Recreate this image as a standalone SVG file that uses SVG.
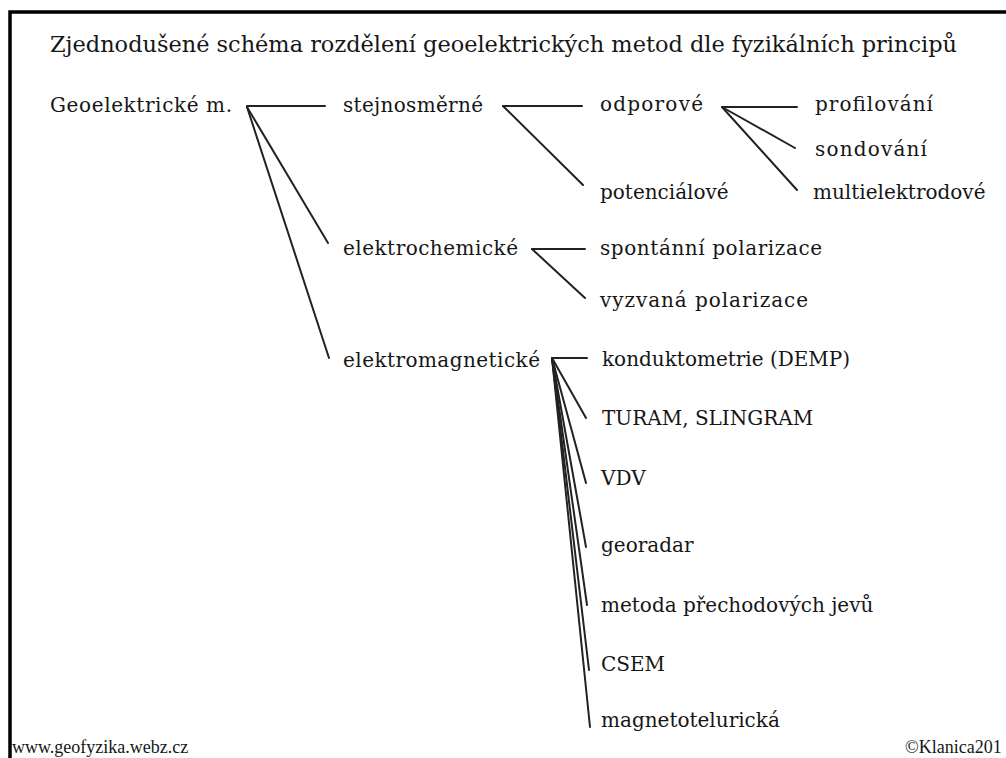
<svg xmlns="http://www.w3.org/2000/svg" width="1006" height="758" viewBox="0 0 1006 758">
<style>
  .t { font-family: "DejaVu Serif", "Liberation Serif", serif; font-size: 20px; fill: #161616; }
  .title { font-family: "DejaVu Serif", "Liberation Serif", serif; font-size: 22px; fill: #161616; }
  .foot { font-family: "Liberation Serif", serif; font-size: 18px; fill: #161616; }
  .c line { stroke: #222; stroke-width: 2; stroke-linecap: round; }
</style>
<rect width="1006" height="758" fill="#ffffff"/>
<path d="M10 758 V12 H1006" fill="none" stroke="#000" stroke-width="3.5"/>
<text class="title" x="50" y="52" textLength="907" lengthAdjust="spacingAndGlyphs">Zjednodušené schéma rozdělení geoelektrických metod dle fyzikálních principů</text>
<g class="c" id="connectors">
  <line x1="247" y1="106" x2="325" y2="106"/>
  <line x1="247" y1="107" x2="328" y2="243"/>
  <line x1="247" y1="107" x2="329" y2="358"/>
  <line x1="503" y1="106" x2="582" y2="106"/>
  <line x1="503" y1="106" x2="583" y2="185"/>
  <line x1="722" y1="107" x2="797" y2="107"/>
  <line x1="722" y1="107" x2="795" y2="148"/>
  <line x1="722" y1="107" x2="797" y2="190"/>
  <line x1="532" y1="249" x2="585" y2="249"/>
  <line x1="532" y1="249" x2="585" y2="298"/>
  <line x1="552" y1="358" x2="587" y2="358"/>
  <line x1="552" y1="358" x2="586" y2="418"/>
  <line x1="552" y1="358" x2="586" y2="483"/>
  <line x1="552" y1="358" x2="586" y2="547"/>
  <line x1="552" y1="358" x2="587" y2="605"/>
  <line x1="552" y1="358" x2="589" y2="670"/>
  <line x1="552" y1="358" x2="590" y2="727"/>
</g>
<g id="n-geo"><text class="t" x="50" y="112" textLength="182">Geoelektrické m.</text></g>
<g id="n-stejnosmerne"><text class="t" x="343" y="112" textLength="140">stejnosměrné</text></g>
<g id="n-odporove"><text class="t" x="600" y="111" textLength="103">odporové</text></g>
<g id="n-profilovani"><text class="t" x="815" y="111" textLength="118">profilování</text></g>
<g id="n-sondovani"><text class="t" x="815" y="156" textLength="112">sondování</text></g>
<g id="n-multi"><text class="t" x="813" y="199">multielektrodové</text></g>
<g id="n-potencialove"><text class="t" x="600" y="199">potenciálové</text></g>
<g id="n-elektrochemicke"><text class="t" x="343" y="255" textLength="175">elektrochemické</text></g>
<g id="n-spontanni"><text class="t" x="600" y="255" textLength="222">spontánní polarizace</text></g>
<g id="n-vyzvana"><text class="t" x="600" y="307" textLength="208">vyzvaná polarizace</text></g>
<g id="n-elektromagneticke"><text class="t" x="343" y="367" textLength="197">elektromagnetické</text></g>
<g id="n-konduktometrie"><text class="t" x="602" y="366">konduktometrie (DEMP)</text></g>
<g id="n-turam"><text class="t" x="602" y="425">TURAM, SLINGRAM</text></g>
<g id="n-vdv"><text class="t" x="601" y="485">VDV</text></g>
<g id="n-georadar"><text class="t" x="601" y="552">georadar</text></g>
<g id="n-metoda"><text class="t" x="601" y="612">metoda přechodových jevů</text></g>
<g id="n-csem"><text class="t" x="601" y="671">CSEM</text></g>
<g id="n-magneto"><text class="t" x="601" y="727">magnetotelurická</text></g>
<text class="foot" x="12" y="753">www.geofyzika.webz.cz</text>
<text class="foot" x="905" y="753">©Klanica201</text>
</svg>
